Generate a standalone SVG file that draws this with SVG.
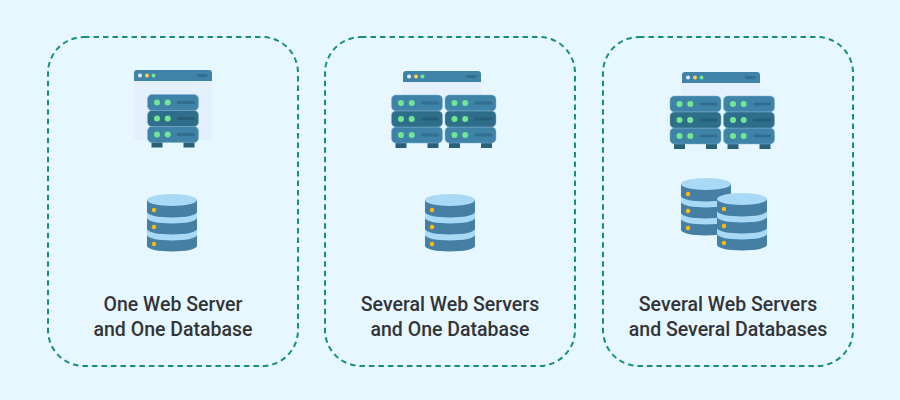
<svg xmlns="http://www.w3.org/2000/svg" width="900" height="400" viewBox="0 0 900 400">
<style>
.panel{fill:none;stroke:#168f7c;stroke-width:2;stroke-dasharray:5.500 4}
.label{font-family:"Roboto","Liberation Sans",sans-serif;font-size:19.5px;font-weight:500;fill:#333438;text-anchor:middle}
.hdr{fill:#3f83a9}.body{fill:#e5f0fe}
.r1{fill:#3f83a9;stroke:#7fb0cc;stroke-width:.5}.r2{fill:#2f6e8a;stroke:#7fb0cc;stroke-width:.5}
.led{fill:#70e890}.slot{fill:#326f8f}.slot2{fill:#265e78}.foot{fill:#2a5f78}
.dbd{fill:#457fa3}.dbl{fill:#a9d9f5}.dot{fill:#fdbb0e}
</style>
<defs>
<g id="browser">
<rect class="body" x="0" y="8" width="78" height="62" rx="3"/>
<path class="hdr" d="M0 11V3a3 3 0 0 1 3-3H75a3 3 0 0 1 3 3V11Z"/>
<circle cx="6" cy="5.500" r="2" fill="#e5f0fe"/><circle cx="13" cy="5.500" r="2" fill="#fbd44c"/><circle cx="19.500" cy="5.500" r="2" fill="#70e890"/>
<rect x="63" y="4" width="10.500" height="3" rx="1" class="slot"/>
</g>
<g id="browserTop">
<rect class="body" x="0" y="8" width="78" height="20"/>
<path class="hdr" d="M0 11V3a3 3 0 0 1 3-3H75a3 3 0 0 1 3 3V11Z"/>
<circle cx="6" cy="5.500" r="2" fill="#e5f0fe"/><circle cx="13" cy="5.500" r="2" fill="#fbd44c"/><circle cx="19.500" cy="5.500" r="2" fill="#70e890"/>
<rect x="63" y="4" width="10.500" height="3" rx="1" class="slot"/>
</g>
<g id="server">
<rect class="foot" x="4" y="47" width="11" height="6"/><rect class="foot" x="36" y="47" width="11" height="6"/>
<rect class="r1" x="0" y="32" width="51" height="16" rx="4.500"/>
<rect class="r1" x="0" y="0" width="51" height="16" rx="4.500"/>
<rect class="r2" x="0" y="16" width="51" height="16" rx="4.500"/>
<circle class="led" cx="9.500" cy="8" r="3"/><circle class="led" cx="20.200" cy="8" r="3"/><rect class="slot" x="29.500" y="6.500" width="18" height="3" rx="1.500"/>
<circle class="led" cx="9.500" cy="24" r="3"/><circle class="led" cx="20.200" cy="24" r="3"/><rect class="slot2" x="29.500" y="22.500" width="18" height="3" rx="1.500"/>
<circle class="led" cx="9.500" cy="40" r="3"/><circle class="led" cx="20.200" cy="40" r="3"/><rect class="slot" x="29.500" y="38.500" width="18" height="3" rx="1.500"/>
</g>
<g id="db">
<path class="dbd" d="M0 41V52A25 5.500 0 0 0 50 52V41Z"/>
<path class="dbl" d="M0 35V41A25 5.500 0 0 0 50 41V35Z"/>
<path class="dbd" d="M0 24V35A25 5.500 0 0 0 50 35V24Z"/>
<path class="dbl" d="M0 18V24A25 5.500 0 0 0 50 24V18Z"/>
<path class="dbd" d="M0 6V18A25 5.500 0 0 0 50 18V6Z"/>
<ellipse class="dbl" cx="25" cy="6" rx="25" ry="6"/>
<circle class="dot" cx="7" cy="16" r="2.200"/><circle class="dot" cx="7" cy="33" r="2.200"/><circle class="dot" cx="7" cy="50" r="2.200"/>
</g>
</defs>
<rect width="900" height="400" fill="#e6f7ff"/>
<g id="panel-1">
<rect class="panel" x="48" y="37" width="250" height="329" rx="36"/>
<use href="#browser" x="134" y="70"/><use href="#server" x="147.500" y="94.500"/><use href="#db" x="147" y="194"/>
<text class="label" x="173" y="311">One Web Server</text><text class="label" x="173" y="335.500">and One Database</text>
</g>
<g id="panel-2">
<rect class="panel" x="325" y="37" width="250" height="329" rx="36"/>
<use href="#browserTop" x="403" y="71"/><use href="#server" x="391.500" y="95"/><use href="#server" x="445" y="95"/><use href="#db" x="425" y="194"/>
<text class="label" x="450" y="311">Several Web Servers</text><text class="label" x="450" y="335.500">and One Database</text>
</g>
<g id="panel-3">
<rect class="panel" x="603" y="37" width="250" height="329" rx="36"/>
<use href="#browserTop" x="682" y="72"/><use href="#server" x="670" y="96"/><use href="#server" x="723.500" y="96"/><use href="#db" x="681" y="178"/><use href="#db" x="717" y="193"/>
<text class="label" x="728" y="311">Several Web Servers</text><text class="label" x="728" y="335.500">and Several Databases</text>
</g>
<g id="connectors"/>
</svg>
